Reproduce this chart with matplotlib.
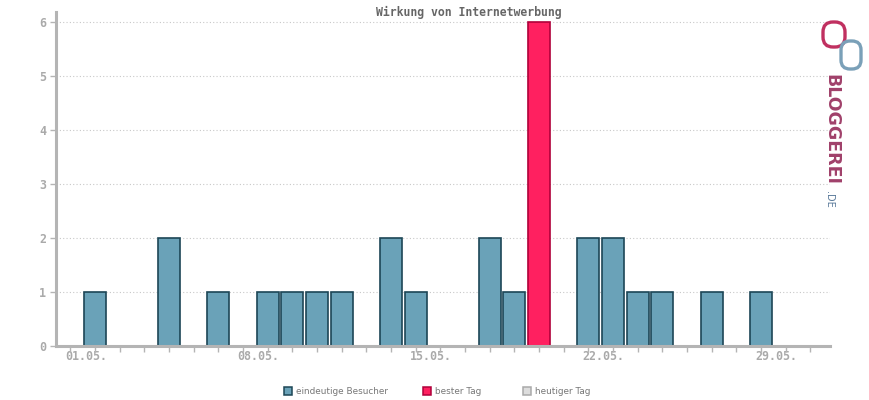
import matplotlib
matplotlib.use("Agg")
import matplotlib.pyplot as plt
from matplotlib.patches import Rectangle, FancyBboxPatch

days = list(range(1, 31))
visitors = [1, 0, 0, 2, 0, 1, 0, 1, 1, 1, 1, 0, 2, 1, 0, 0, 2, 1, 6, 0,
            2, 2, 1, 1, 0, 1, 0, 1, 0, 0]
best_day = 19
tick_days = [1, 8, 15, 22, 29]
tick_labels = ["01.05.", "08.05.", "15.05.", "22.05.", "29.05."]
yticks = [0, 1, 2, 3, 4, 5, 6]
title = "Wirkung von Internetwerbung"
legend_labels = ["eindeutige Besucher", "bester Tag", "heutiger Tag"]

blue, blue_edge = "#6aa2b8", "#1c4656"
red, red_edge = "#ff2060", "#b0003a"
gray_axis = "#b4b4b4"
tick_col = "#aaaaaa"

fig = plt.figure(figsize=(8.7, 4.0), dpi=100)
ax = fig.add_axes([55.7 / 870, 54 / 400, (830 - 55.7) / 870, (346 - 12) / 400])

colors = [red if d == best_day else blue for d in days]
edges = [red_edge if d == best_day else blue_edge for d in days]
ax.bar(days, visitors, width=0.89, color=colors, edgecolor=edges, linewidth=1.2, zorder=2)

ax.set_xlim(-0.6, 30.8)
ax.set_ylim(0, 6.185)
ax.set_yticks(yticks)
ax.set_yticklabels([str(v) for v in yticks])
for y in yticks[1:]:
    ax.axhline(y, color="#c8c8c8", linestyle=(0, (1, 2)), linewidth=0.8, zorder=1)

# every day gets a tick mark; the labels sit slightly left of their day
ax.set_xticks(list(range(0, 31)), minor=True)
ax.set_xticks([d - 0.37 for d in tick_days])
ax.set_xticklabels(tick_labels)

mono = "DejaVu Sans Mono"
ax.tick_params(axis="both", which="both", direction="out", color=gray_axis,
               length=4, width=1, labelcolor=tick_col, labelsize=8.4)
ax.tick_params(axis="x", which="major", length=0, pad=3)
ax.tick_params(axis="y", pad=3)
for lbl in ax.get_xticklabels() + ax.get_yticklabels():
    lbl.set_fontfamily(mono)
    lbl.set_fontweight("bold")

for s in ["top", "right"]:
    ax.spines[s].set_visible(False)
for s in ["left", "bottom"]:
    ax.spines[s].set_color(gray_axis)
    ax.spines[s].set_linewidth(2.2)
    ax.spines[s].set_zorder(3)

fig.text(469 / 870, 1 - 12 / 400, title, ha="center", va="center",
         fontfamily=mono, fontweight="bold", fontsize=8.3, color="#666666")

# legend
leg_items = [(284, blue, blue_edge), (423, red, red_edge), (523, "#dddddd", "#aaaaaa")]
for (x, fc, ec), lab in zip(leg_items, legend_labels):
    fig.patches.append(Rectangle((x / 870, 1 - 395 / 400), 8 / 870, 8 / 400,
                                 facecolor=fc, edgecolor=ec, linewidth=1.1,
                                 transform=fig.transFigure, figure=fig))
    fig.text((x + 12) / 870, 1 - 391 / 400, lab, ha="left", va="center",
             fontsize=6.4, color="#777777", fontfamily="DejaVu Sans")

# logo approximation
fig.text(831 / 870, 1 - 129 / 400, "BLOGGEREI", rotation=270, ha="center", va="center",
         fontsize=12.5, fontweight="bold", color="#a0406a", fontfamily="DejaVu Sans")
fig.text(829 / 870, 1 - 199 / 400, ".DE", rotation=270, ha="center", va="center",
         fontsize=7, color="#5a7a9a", fontfamily="DejaVu Sans")
lax = fig.add_axes([815 / 870, 1 - 75 / 400, 55 / 870, 58 / 400])
lax.set_xlim(0, 55); lax.set_ylim(0, 58); lax.axis("off")
lax.add_patch(FancyBboxPatch((8, 28), 22, 25, boxstyle="round,pad=0,rounding_size=10",
                             fill=False, edgecolor="#c03060", linewidth=2.4))
lax.add_patch(FancyBboxPatch((26, 6), 20, 28, boxstyle="round,pad=0,rounding_size=9",
                             fill=False, edgecolor="#7aa0b8", linewidth=2.4))

fig.savefig("out.png", dpi=100)
